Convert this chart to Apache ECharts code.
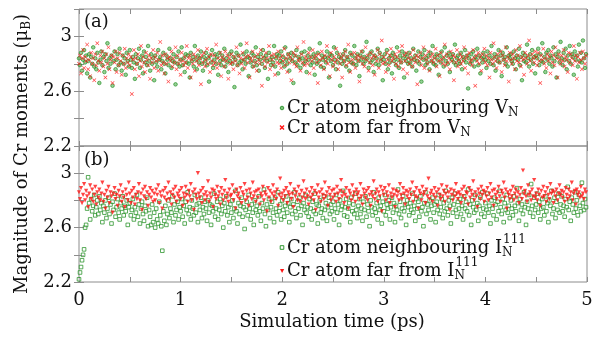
<!DOCTYPE html>
<html><head><meta charset="utf-8">
<script src="https://cdn.jsdelivr.net/npm/echarts@6/dist/echarts.min.js"></script>
<style>html,body{margin:0;padding:0;background:#fff}#c{width:601px;height:337px}</style>
</head><body><div id="c"></div>
<script>
// time step (ps) between stored samples
const DT = 0.01;
const xTickLabels = ['0','1','2','3','4','5'];
const yTickLabels = ['2.2','2.6','3'];
const panelLabels = ['(a)','(b)'];

// Panel (a): Cr atom neighbouring V_N
const neighVN = [
2.84,2.79,2.88,2.75,2.83,2.90,2.81,2.86,2.73,2.82,2.87,2.70,2.85,2.80,2.92,2.78,2.84,2.76,2.88,2.81,2.66,2.83,2.89,2.79,2.85,
2.74,2.87,2.82,2.95,2.77,2.84,2.80,2.86,2.64,2.82,2.89,2.76,2.83,2.87,2.79,2.91,2.81,2.75,2.86,2.80,2.84,2.72,2.88,2.82,2.78,
2.90,2.83,2.77,2.85,2.81,2.69,2.87,2.80,2.84,2.91,2.77,2.83,2.86,2.73,2.89,2.81,2.85,2.79,2.93,2.82,2.75,2.87,2.80,2.84,2.68,
2.86,2.81,2.78,2.90,2.83,2.85,2.76,2.82,2.88,2.80,2.73,2.86,2.83,2.79,2.91,2.84,2.77,2.82,2.87,2.81,2.65,2.85,2.80,2.89,2.78,
2.83,2.92,2.79,2.84,2.74,2.87,2.81,2.86,2.80,2.70,2.88,2.82,2.85,2.78,2.93,2.83,2.76,2.86,2.81,2.84,2.89,2.80,2.75,2.85,2.82,
2.88,2.79,2.84,2.67,2.86,2.81,2.90,2.77,2.83,2.87,2.80,2.85,2.72,2.88,2.82,2.79,2.86,2.83,2.91,2.78,2.84,2.81,2.74,2.87,2.82,
2.89,2.80,2.85,2.63,2.83,2.88,2.79,2.86,2.81,2.94,2.82,2.76,2.87,2.83,2.80,2.89,2.85,2.71,2.84,2.81,2.88,2.78,2.86,2.82,2.92,
2.79,2.85,2.75,2.83,2.87,2.80,2.90,2.84,2.77,2.86,2.82,2.69,2.88,2.83,2.79,2.85,2.81,2.93,2.78,2.84,2.87,2.73,2.86,2.82,2.89,
2.81,2.85,2.78,2.92,2.83,2.80,2.87,2.75,2.84,2.88,2.82,2.66,2.86,2.81,2.90,2.79,2.85,2.83,2.77,2.88,2.84,2.80,2.89,2.82,2.74,
2.86,2.83,2.91,2.79,2.85,2.81,2.87,2.72,2.84,2.80,2.88,2.82,2.95,2.78,2.86,2.83,2.77,2.85,2.81,2.89,2.84,2.70,2.87,2.82,2.86,
2.79,2.92,2.83,2.76,2.88,2.81,2.85,2.64,2.84,2.80,2.87,2.82,2.90,2.78,2.85,2.83,2.75,2.88,2.81,2.86,2.80,2.93,2.84,2.79,2.87,
2.82,2.71,2.86,2.83,2.89,2.80,2.85,2.82,2.96,2.84,2.77,2.87,2.81,2.89,2.83,2.74,2.86,2.80,2.84,2.91,2.79,2.88,2.82,2.85,2.68,
2.83,2.87,2.80,2.90,2.76,2.84,2.81,2.86,2.73,2.88,2.82,2.85,2.79,2.92,2.83,2.77,2.86,2.81,2.89,2.84,2.70,2.87,2.82,2.85,2.80,
2.88,2.81,2.84,2.78,2.91,2.83,2.86,2.75,2.82,2.89,2.80,2.85,2.67,2.87,2.83,2.90,2.79,2.84,2.81,2.86,2.76,2.88,2.82,2.93,2.80,
2.85,2.79,2.87,2.83,2.72,2.86,2.81,2.89,2.84,2.78,2.92,2.82,2.86,2.80,2.88,2.74,2.85,2.83,2.87,2.81,2.94,2.79,2.84,2.86,2.82,
2.80,2.88,2.76,2.85,2.83,2.90,2.81,2.86,2.62,2.84,2.80,2.87,2.82,2.89,2.78,2.85,2.83,2.91,2.79,2.86,2.73,2.84,2.81,2.88,2.85,
2.83,2.77,2.89,2.82,2.86,2.80,2.93,2.84,2.79,2.87,2.75,2.85,2.82,2.90,2.81,2.86,2.71,2.88,2.83,2.85,2.80,2.92,2.78,2.86,2.84,
2.87,2.82,2.80,2.89,2.84,2.76,2.86,2.83,2.91,2.79,2.85,2.68,2.88,2.82,2.86,2.81,2.94,2.84,2.78,2.87,2.83,2.90,2.80,2.85,2.73,
2.86,2.84,2.91,2.79,2.87,2.82,2.95,2.81,2.85,2.74,2.88,2.83,2.90,2.80,2.86,2.84,2.78,2.92,2.82,2.87,2.70,2.85,2.89,2.81,2.96,
2.84,2.79,2.88,2.83,2.91,2.76,2.86,2.82,2.93,2.80,2.87,2.85,2.72,2.89,2.83,2.86,2.78,2.94,2.82,2.88,2.81,2.97,2.84,2.77,2.87];

// Panel (a): Cr atom far from V_N
const farVN = [
2.80,2.86,2.73,2.84,2.90,2.77,2.85,2.82,2.94,2.76,2.83,2.71,2.88,2.80,2.84,2.68,2.87,2.79,2.95,2.82,2.75,2.86,2.81,2.89,2.78,
2.84,2.70,2.87,2.80,2.92,2.76,2.83,2.86,2.66,2.85,2.81,2.89,2.74,2.84,2.79,2.88,2.82,2.72,2.86,2.80,2.91,2.77,2.84,2.81,2.87,
2.79,2.85,2.58,2.83,2.90,2.76,2.84,2.80,2.87,2.71,2.82,2.93,2.78,2.85,2.81,2.74,2.88,2.83,2.79,2.86,2.69,2.84,2.81,2.90,2.77,
2.85,2.82,2.88,2.75,2.83,2.96,2.79,2.86,2.81,2.73,2.87,2.80,2.84,2.67,2.85,2.82,2.89,2.78,2.84,2.81,2.92,2.76,2.86,2.80,2.83,
2.72,2.88,2.82,2.79,2.85,2.81,2.93,2.77,2.84,2.86,2.70,2.83,2.80,2.87,2.75,2.85,2.82,2.90,2.79,2.84,2.65,2.86,2.81,2.88,2.78,
2.83,2.91,2.80,2.85,2.74,2.87,2.82,2.79,2.86,2.81,2.94,2.77,2.84,2.80,2.88,2.71,2.85,2.83,2.78,2.89,2.82,2.86,2.69,2.84,2.80,
2.87,2.81,2.76,2.85,2.82,2.92,2.79,2.86,2.73,2.84,2.80,2.88,2.83,2.77,2.85,2.95,2.81,2.86,2.70,2.84,2.82,2.89,2.78,2.85,2.81,
2.75,2.87,2.83,2.80,2.90,2.64,2.85,2.82,2.78,2.88,2.84,2.81,2.93,2.76,2.86,2.83,2.79,2.87,2.72,2.85,2.81,2.89,2.80,2.84,2.77,
2.86,2.82,2.91,2.79,2.84,2.74,2.87,2.81,2.85,2.68,2.83,2.88,2.80,2.86,2.78,2.92,2.82,2.84,2.75,2.87,2.81,2.96,2.79,2.85,2.83,
2.80,2.88,2.73,2.85,2.82,2.90,2.77,2.84,2.86,2.81,2.66,2.87,2.83,2.79,2.89,2.84,2.76,2.86,2.82,2.93,2.80,2.85,2.71,2.88,2.83,
2.78,2.85,2.81,2.91,2.83,2.76,2.87,2.80,2.84,2.70,2.86,2.82,2.89,2.79,2.85,2.94,2.81,2.74,2.87,2.83,2.80,2.88,2.77,2.84,2.86,
2.82,2.67,2.85,2.89,2.80,2.84,2.78,2.92,2.83,2.86,2.75,2.81,2.88,2.84,2.79,2.86,2.72,2.85,2.82,2.90,2.77,2.87,2.83,2.97,2.80,
2.85,2.81,2.74,2.88,2.83,2.79,2.86,2.91,2.82,2.84,2.69,2.87,2.80,2.85,2.78,2.89,2.83,2.81,2.93,2.76,2.86,2.82,2.88,2.73,2.84,
2.80,2.87,2.83,2.78,2.90,2.84,2.81,2.86,2.65,2.85,2.82,2.88,2.79,2.84,2.92,2.77,2.86,2.83,2.80,2.89,2.75,2.85,2.82,2.87,2.81,
2.84,2.91,2.78,2.86,2.82,2.71,2.88,2.83,2.80,2.85,2.94,2.79,2.87,2.81,2.84,2.76,2.89,2.82,2.86,2.68,2.85,2.81,2.90,2.78,2.83,
2.87,2.80,2.85,2.82,2.92,2.77,2.84,2.86,2.73,2.88,2.81,2.83,2.79,2.90,2.84,2.64,2.86,2.82,2.88,2.80,2.85,2.75,2.87,2.83,2.91,
2.81,2.86,2.79,2.84,2.70,2.88,2.83,2.80,2.95,2.85,2.82,2.77,2.87,2.84,2.81,2.89,2.74,2.86,2.83,2.79,2.92,2.82,2.85,2.67,2.88,
2.83,2.80,2.87,2.84,2.76,2.90,2.82,2.86,2.81,2.93,2.78,2.85,2.83,2.72,2.88,2.84,2.80,2.86,2.97,2.82,2.75,2.87,2.84,2.81,2.89,
2.85,2.79,2.88,2.82,2.66,2.86,2.83,2.91,2.80,2.84,2.77,2.87,2.82,2.85,2.73,2.89,2.81,2.86,2.79,2.92,2.84,2.70,2.87,2.83,2.80,
2.86,2.82,2.90,2.78,2.85,2.83,2.74,2.88,2.81,2.87,2.84,2.79,2.93,2.82,2.86,2.69,2.85,2.81,2.88,2.83,2.76,2.89,2.84,2.80,2.86];

// Panel (b): Cr atom neighbouring I_N^111
const neighIN = [
2.22,2.27,2.31,2.36,2.40,2.44,2.60,2.62,2.74,2.97,2.78,2.66,2.81,2.72,2.76,2.84,2.69,2.75,2.80,2.70,2.83,2.73,2.78,2.64,2.76,
2.71,2.80,2.67,2.74,2.82,2.70,2.77,2.63,2.79,2.73,2.85,2.68,2.75,2.81,2.71,2.66,2.78,2.74,2.83,2.69,2.76,2.72,2.80,2.62,2.75,
2.78,2.69,2.73,2.81,2.66,2.75,2.71,2.84,2.68,2.77,2.63,2.74,2.79,2.70,2.65,2.76,2.72,2.82,2.61,2.73,2.68,2.62,2.77,2.64,2.71,
2.60,2.74,2.66,2.63,2.79,2.69,2.61,2.43,2.72,2.65,2.76,2.62,2.70,2.80,2.67,2.74,2.71,2.83,2.64,2.77,2.69,2.73,2.79,2.66,2.75,
2.72,2.81,2.68,2.76,2.63,2.79,2.73,2.86,2.70,2.75,2.66,2.80,2.74,2.69,2.84,2.71,2.77,2.64,2.78,2.73,2.82,2.67,2.75,2.70,2.79,
2.74,2.65,2.80,2.71,2.77,2.62,2.76,2.72,2.85,2.68,2.74,2.79,2.66,2.73,2.81,2.70,2.76,2.60,2.78,2.72,2.83,2.69,2.75,2.64,2.77,
2.71,2.80,2.67,2.74,2.87,2.72,2.63,2.78,2.70,2.76,2.82,2.68,2.75,2.59,2.73,2.79,2.69,2.84,2.74,2.66,2.77,2.71,2.62,2.80,2.73,
2.76,2.69,2.83,2.72,2.65,2.78,2.74,2.88,2.70,2.61,2.77,2.73,2.81,2.67,2.75,2.79,2.71,2.64,2.82,2.74,2.69,2.86,2.72,2.77,2.66,
2.80,2.73,2.68,2.76,2.83,2.71,2.78,2.64,2.75,2.81,2.70,2.77,2.86,2.72,2.67,2.79,2.74,2.82,2.69,2.76,2.62,2.78,2.73,2.84,2.71,
2.75,2.68,2.81,2.74,2.66,2.79,2.72,2.85,2.70,2.77,2.63,2.76,2.80,2.71,2.74,2.67,2.83,2.73,2.78,2.65,2.75,2.82,2.70,2.77,2.72,
2.79,2.66,2.74,2.84,2.71,2.77,2.62,2.80,2.73,2.76,2.87,2.69,2.75,2.81,2.68,2.74,2.78,2.64,2.82,2.72,2.77,2.70,2.85,2.73,2.67,
2.76,2.81,2.70,2.74,2.65,2.79,2.73,2.83,2.68,2.77,2.72,2.61,2.80,2.75,2.69,2.86,2.74,2.71,2.78,2.66,2.82,2.73,2.76,2.63,2.79,
2.72,2.84,2.69,2.77,2.74,2.80,2.66,2.75,2.82,2.71,2.78,2.64,2.76,2.73,2.88,2.70,2.79,2.67,2.74,2.83,2.72,2.77,2.62,2.80,2.75,
2.69,2.78,2.73,2.85,2.71,2.76,2.65,2.81,2.74,2.79,2.68,2.83,2.72,2.75,2.61,2.78,2.86,2.70,2.77,2.73,2.80,2.66,2.76,2.82,2.71,
2.77,2.64,2.79,2.73,2.84,2.70,2.75,2.81,2.67,2.78,2.72,2.87,2.74,2.69,2.80,2.76,2.63,2.82,2.71,2.77,2.85,2.73,2.68,2.79,2.74,
2.81,2.70,2.76,2.66,2.83,2.74,2.79,2.72,2.88,2.69,2.77,2.62,2.80,2.75,2.71,2.84,2.73,2.78,2.65,2.76,2.82,2.70,2.86,2.74,2.68,
2.78,2.73,2.85,2.71,2.76,2.63,2.80,2.74,2.69,2.82,2.77,2.66,2.79,2.72,2.87,2.75,2.70,2.81,2.64,2.78,2.73,2.84,2.71,2.76,2.67,
2.80,2.74,2.69,2.83,2.76,2.72,2.89,2.78,2.65,2.81,2.73,2.77,2.70,2.86,2.75,2.62,2.79,2.74,2.84,2.71,2.92,2.76,2.68,2.82,2.73,
2.77,2.85,2.71,2.79,2.66,2.74,2.81,2.75,2.69,2.83,2.72,2.78,2.64,2.80,2.76,2.87,2.70,2.74,2.82,2.67,2.79,2.73,2.85,2.71,2.77,
2.83,2.72,2.76,2.68,2.81,2.75,2.90,2.73,2.79,2.65,2.82,2.77,2.71,2.86,2.74,2.80,2.69,2.84,2.76,2.72,2.93,2.78,2.73,2.81,2.75];

// Panel (b): Cr atom far from I_N^111
const farIN = [
2.86,2.81,2.89,2.78,2.84,2.92,2.80,2.87,2.83,2.75,2.85,2.91,2.81,2.88,2.79,2.84,2.90,2.77,2.86,2.82,2.88,2.80,2.85,2.93,2.79,
2.84,2.74,2.87,2.82,2.90,2.78,2.86,2.83,2.71,2.85,2.89,2.81,2.84,2.76,2.87,2.83,2.91,2.79,2.86,2.82,2.75,2.88,2.84,2.80,2.93,
2.85,2.78,2.87,2.82,2.89,2.77,2.84,2.81,2.86,2.92,2.80,2.85,2.73,2.88,2.83,2.90,2.81,2.86,2.76,2.84,2.89,2.82,2.87,2.79,2.85,
2.80,2.88,2.84,2.91,2.78,2.86,2.83,2.74,2.87,2.82,2.89,2.80,2.85,2.93,2.81,2.86,2.77,2.84,2.88,2.82,2.90,2.79,2.85,2.83,2.87,
2.81,2.89,2.76,2.85,2.82,2.90,2.84,2.79,2.87,2.83,2.92,2.80,2.86,2.73,2.88,2.84,2.81,3.00,2.85,2.82,2.87,2.78,2.89,2.84,2.80,
2.86,2.83,2.94,2.79,2.85,2.82,2.88,2.75,2.87,2.84,2.81,2.90,2.83,2.86,2.77,2.89,2.84,2.80,2.87,2.95,2.82,2.85,2.79,2.88,2.83,
2.84,2.91,2.80,2.86,2.74,2.88,2.83,2.85,2.81,2.89,2.78,2.86,2.84,2.92,2.80,2.87,2.82,2.76,2.88,2.85,2.81,2.93,2.83,2.86,2.79,
2.87,2.82,2.88,2.77,2.85,2.83,2.90,2.80,2.86,2.84,2.72,2.89,2.82,2.87,2.79,2.85,2.91,2.83,2.86,2.81,2.88,2.76,2.84,2.96,2.82,
2.85,2.80,2.87,2.83,2.89,2.78,2.86,2.84,2.92,2.81,2.85,2.75,2.88,2.83,2.86,2.80,2.90,2.84,2.79,2.87,2.82,2.94,2.85,2.81,2.88,
2.83,2.77,2.86,2.82,2.89,2.84,2.80,2.87,2.73,2.85,2.91,2.82,2.86,2.79,2.88,2.84,2.81,2.93,2.83,2.86,2.76,2.89,2.84,2.80,2.87,
2.82,2.88,2.84,2.79,2.90,2.85,2.81,2.87,2.95,2.83,2.86,2.78,2.84,2.89,2.82,2.74,2.87,2.85,2.80,2.91,2.83,2.86,2.79,2.88,2.84,
2.86,2.81,2.92,2.83,2.77,2.88,2.85,2.82,2.87,2.80,2.89,2.84,2.76,2.86,2.83,2.94,2.81,2.85,2.88,2.79,2.86,2.83,2.90,2.72,2.87,
2.84,2.89,2.80,2.86,2.83,2.91,2.78,2.85,2.82,2.88,2.84,2.75,2.87,2.83,2.86,2.80,2.92,2.84,2.81,2.89,2.85,2.77,2.87,2.83,2.86,
2.81,2.88,2.84,2.93,2.79,2.86,2.83,2.89,2.82,2.74,2.87,2.85,2.80,2.90,2.84,2.86,2.78,2.88,2.83,2.96,2.81,2.85,2.87,2.79,2.84,
2.89,2.82,2.86,2.76,2.88,2.84,2.81,2.91,2.83,2.87,2.79,2.85,2.90,2.82,2.86,2.73,2.88,2.84,2.80,2.87,2.83,2.92,2.85,2.81,2.86,
2.84,2.78,2.88,2.83,2.90,2.81,2.86,2.85,2.77,2.89,2.82,2.87,2.84,2.94,2.80,2.86,2.83,2.75,2.88,2.85,2.81,2.90,2.84,2.87,2.79,
2.86,2.83,2.89,2.80,2.85,2.92,2.82,2.87,2.76,2.88,2.84,2.81,2.86,2.90,2.83,2.79,2.87,2.85,2.93,2.82,2.88,2.74,2.86,2.84,2.81,
2.87,2.83,2.90,2.80,2.85,2.88,2.82,2.86,2.78,2.84,2.89,2.81,3.02,2.85,2.87,2.83,2.79,2.91,2.84,2.86,2.80,2.88,2.83,2.95,2.82,
2.85,2.80,2.88,2.84,2.76,2.87,2.82,2.90,2.83,2.86,2.79,2.89,2.84,2.81,2.92,2.85,2.87,2.78,2.86,2.83,2.88,2.80,2.85,2.91,2.84,
2.87,2.82,2.86,2.79,2.89,2.84,2.81,2.88,2.83,2.86,2.93,2.80,2.85,2.87,2.77,2.88,2.84,2.86,2.82,2.90,2.83,2.85,2.81,2.88,2.86];

const FONT = '"DejaVu Serif", serif';
const GREEN = '#1a8c1a';
const RED = '#ff1414';
const FRAME = '#8c8c8c';
const XMARK = 'path://M0,1.2L1.2,0L5,3.8L8.8,0L10,1.2L6.2,5L10,8.8L8.8,10L5,6.2L1.2,10L0,8.8L3.8,5Z';

const pts = ys => ys.map((y, i) => [i * DT, y]);

const chart = echarts.init(document.getElementById('c'), null, {renderer: 'canvas'});

function xAx(grid, pos, labels) {
  return {
    type: 'value', gridIndex: grid, position: pos, min: 0, max: 5, interval: 0.5,
    axisLine: {show: false}, splitLine: {show: false},
    axisTick: {inside: true, length: 5, lineStyle: {color: FRAME}},
    axisLabel: {show: labels, margin: 9, fontFamily: FONT, fontSize: 18, color: '#111',
      formatter: v => { const s = String(+v.toFixed(1)); return xTickLabels.includes(s) ? s : ''; }}
  };
}
function yAx(grid, pos, labels) {
  return {
    type: 'value', gridIndex: grid, position: pos, min: 2.2, max: 3.2, interval: 0.2,
    axisLine: {show: false}, splitLine: {show: false},
    axisTick: {inside: true, length: 5, lineStyle: {color: FRAME}},
    axisLabel: {show: labels, margin: 7, fontFamily: FONT, fontSize: 18, color: '#111',
      formatter: v => { const s = String(+v.toFixed(1)); return yTickLabels.includes(s) ? s : ''; }}
  };
}

const option = {
  animation: false,
  backgroundColor: '#fff',
  grid: [
    {left: 79, top: 9, width: 508, height: 137, show: true, borderColor: FRAME, borderWidth: 1},
    {left: 79, top: 146, width: 508, height: 136, show: true, borderColor: FRAME, borderWidth: 1}
  ],
  xAxis: [xAx(0, 'bottom', false), xAx(0, 'top', false), xAx(1, 'bottom', true), xAx(1, 'top', false)],
  yAxis: [yAx(0, 'left', true), yAx(0, 'right', false), yAx(1, 'left', true), yAx(1, 'right', false)],
  series: [
    {type: 'scatter', name: 'neighVN', xAxisIndex: 0, yAxisIndex: 0, data: pts(neighVN),
      symbol: 'circle', symbolSize: 3.6, silent: true,
      itemStyle: {color: 'rgba(70,170,70,0.7)', borderColor: GREEN, borderWidth: 0.8}},
    {type: 'scatter', name: 'farVN', xAxisIndex: 0, yAxisIndex: 0, data: pts(farVN),
      symbol: XMARK, symbolSize: 4, silent: true,
      itemStyle: {color: RED}},
    {type: 'scatter', name: 'neighIN', xAxisIndex: 2, yAxisIndex: 2, data: pts(neighIN),
      symbol: 'rect', symbolSize: 3.6, silent: true,
      itemStyle: {color: 'rgba(255,255,255,0.5)', borderColor: GREEN, borderWidth: 0.9}},
    {type: 'scatter', name: 'farIN', xAxisIndex: 2, yAxisIndex: 2, data: pts(farIN),
      symbol: 'triangle', symbolRotate: 180, symbolSize: 4.2, silent: true,
      itemStyle: {color: RED}}
  ]
};
chart.setOption(option);

// text pieces
const ctx = document.createElement('canvas').getContext('2d');
function tw(txt, size) { ctx.font = size + 'px ' + FONT; return ctx.measureText(txt).width; }

const LX = 287, MAIN = 18, SMALL = 12;
function legendText(x, y, base, sub, sup) {
  const w = tw(base, MAIN);
  const els = [{type: 'text', x: x, y: y, style: {text: base, font: MAIN + 'px ' + FONT, fill: '#111', textVerticalAlign: 'middle'}}];
  els.push({type: 'text', x: x + w, y: y + 5, style: {text: sub, font: SMALL + 'px ' + FONT, fill: '#111', textVerticalAlign: 'middle'}});
  if (sup) els.push({type: 'text', x: x + w + 1, y: y - 8, style: {text: sup, font: SMALL + 'px ' + FONT, fill: '#111', textVerticalAlign: 'middle'}});
  return els;
}

const g = [];
// legend markers
g.push({type: 'circle', shape: {cx: 282, cy: 108, r: 1.8}, style: {fill: 'rgba(70,170,70,0.7)', stroke: GREEN, lineWidth: 0.8}});
g.push({type: 'polygon', shape: {points: [[280,126],[281,125],[282.5,126.5],[284,125],[285,126],[283.5,127.5],[285,129],[284,130],[282.5,128.5],[281,130],[280,129],[281.5,127.5]].map(p=>[p[0]-0.5,p[1]])}, style: {fill: RED}});
g.push({type: 'rect', shape: {x: 280.2, y: 245.7, width: 3.6, height: 3.6}, style: {fill: '#fff', stroke: GREEN, lineWidth: 0.9}});
g.push({type: 'polygon', shape: {points: [[280,269],[284.2,269],[282.1,273]]}, style: {fill: RED}});

g.push(...legendText(LX, 108, 'Cr atom neighbouring V', 'N'));
g.push(...legendText(LX, 128, 'Cr atom far from V', 'N'));
g.push(...legendText(LX, 248, 'Cr atom neighbouring I', 'N', '111'));
g.push(...legendText(LX, 271, 'Cr atom far from I', 'N', '111'));

g.push({type: 'text', x: 84, y: 22, style: {text: panelLabels[0], font: '18px ' + FONT, fill: '#111', textVerticalAlign: 'middle'}});
g.push({type: 'text', x: 84, y: 160, style: {text: panelLabels[1], font: '18px ' + FONT, fill: '#111', textVerticalAlign: 'middle'}});

g.push({type: 'text', x: 332, y: 322, style: {text: 'Simulation time (ps)', font: '18px ' + FONT, fill: '#111', textAlign: 'center', textVerticalAlign: 'middle'}});

g.push({type: 'text', x: 22, y: 154, rotation: Math.PI / 2,
  style: {text: '{t|Magnitude of Cr moments (μ}{s|B}{t|)}', textAlign: 'center', textVerticalAlign: 'middle', fill: '#111',
    rich: {t: {fontFamily: FONT, fontSize: 18, lineHeight: 22, fill: '#111'}, s: {fontFamily: FONT, fontSize: 12, lineHeight: 12, verticalAlign: 'bottom', fill: '#111'}}}});

chart.setOption({graphic: {elements: g}});
</script></body></html>
